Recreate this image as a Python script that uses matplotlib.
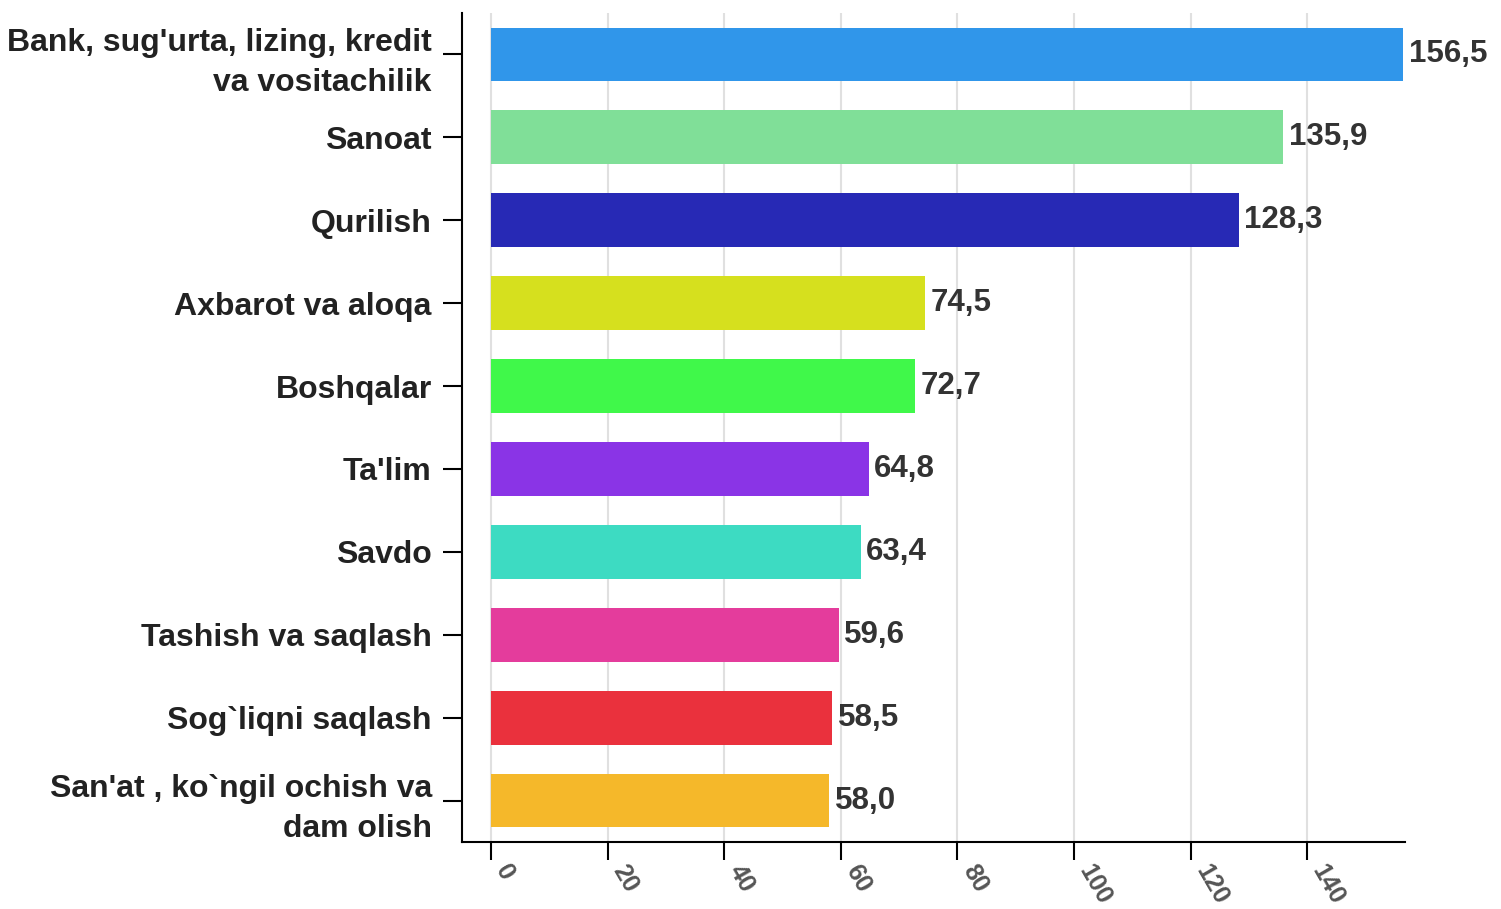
import matplotlib
matplotlib.use("Agg")
import matplotlib.pyplot as plt
from matplotlib.transforms import ScaledTranslation

plt.rcParams.update({"font.family": ["Liberation Sans", "DejaVu Sans"],
                     "savefig.facecolor": "white"})

categories = ["Bank, sug'urta, lizing, kredit\nva vositachilik", "Sanoat", "Qurilish",
              "Axbarot va aloqa", "Boshqalar", "Ta'lim", "Savdo",
              "Tashish va saqlash", "Sog`liqni saqlash",
              "San'at , ko`ngil ochish va\ndam olish"]
values = [156.5, 135.9, 128.3, 74.5, 72.7, 64.8, 63.4, 59.6, 58.5, 58.0]
value_labels = ["156,5", "135,9", "128,3", "74,5", "72,7", "64,8", "63,4",
                "59,6", "58,5", "58,0"]
colors = ["#3096EA", "#80DF98", "#2729B5", "#D6E01E", "#40F84A", "#8A34E6",
          "#3DDBC2", "#E43C9C", "#EA313D", "#F5B82A"]
xticks = [0, 20, 40, 60, 80, 100, 120, 140]

fig = plt.figure(figsize=(15.01, 9.09), dpi=100)
ax = fig.add_axes([462 / 1501, 67 / 909, 943 / 1501, 829 / 909])

ypos = list(range(len(categories)))
ax.barh(ypos, values, height=0.65, color=colors, zorder=2)
ax.set_xlim(-5, 156.8)
ax.set_ylim(9.5, -0.5)

for y, v, s in zip(ypos, values, value_labels):
    ax.annotate(s, xy=(v, y), xytext=(4, 0), textcoords="offset points",
                ha="left", va="center", fontsize=22.5, fontweight="bold",
                color="#333333", zorder=3)

ax.set_yticks(ypos)
ax.set_yticklabels(categories, fontsize=23, fontweight="bold", color="#222222",
                   linespacing=1.45)
ax.set_xticks(xticks)
ax.set_xticklabels([str(t) for t in xticks], fontsize=18, fontweight="bold",
                   color="#555555")
ax.tick_params(axis="y", length=13.7, width=1.5, pad=8)
ax.tick_params(axis="x", length=13, width=1.5, pad=4.3)
offset = ScaledTranslation(7.5 / 72, 0, fig.dpi_scale_trans)
for lbl in ax.get_xticklabels():
    lbl.set_rotation(-60)
    lbl.set_ha("left")
    lbl.set_va("center")
    lbl.set_rotation_mode("anchor")
    lbl.set_transform(lbl.get_transform() + offset)

ax.grid(axis="x", color="#e0e0e0", lw=1.5, zorder=0)
ax.set_axisbelow(True)
for side in ("top", "right"):
    ax.spines[side].set_visible(False)
for side in ("left", "bottom"):
    ax.spines[side].set_linewidth(1.5)
    ax.spines[side].set_color("black")

fig.savefig("out.png", dpi=100)
